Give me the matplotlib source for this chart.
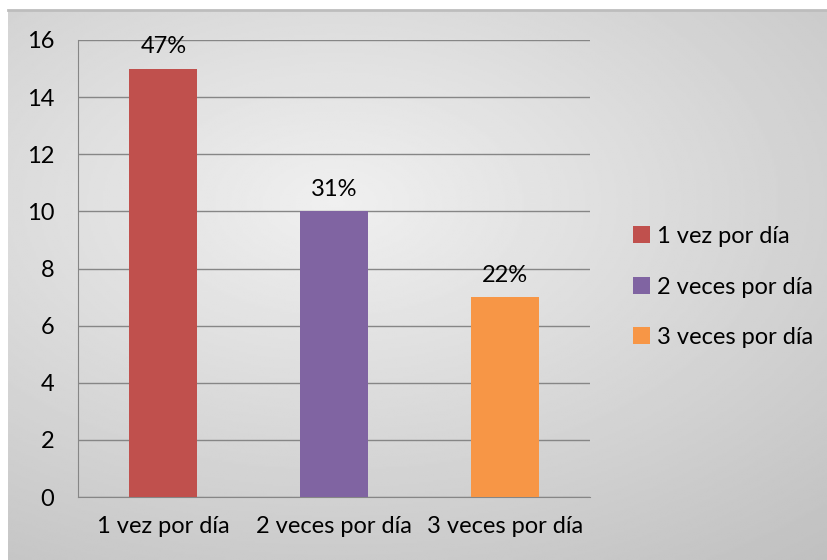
import matplotlib.pyplot as plt
import numpy as np

categorias = ["1 vez por día", "2 veces por día", "3 veces por día"]
valores = [15, 10, 7]
porcentajes = ["47%", "31%", "22%"]
colores = ["#C0504D", "#8064A2", "#F79646"]

plt.rcParams["font.family"] = ["Lato", "DejaVu Sans"]

fig = plt.figure(figsize=(8.28, 5.6), dpi=100)
fig.patch.set_facecolor("white")

# fondo degradado
fondo = fig.add_axes([8 / 828, 0, 820 / 828, 550 / 560])
yy, xx = np.mgrid[0:1:300j, 0:1:400j]
d = np.sqrt(((xx - 0.4) / 1.0) ** 2 + ((yy - 0.35) / 0.9) ** 2)
img = 0.94 - 0.2 * np.clip(d, 0, 1)
fondo.imshow(img, cmap="gray", vmin=0, vmax=1, aspect="auto", extent=[0, 1, 1, 0])
fondo.set_axis_off()
fig.add_artist(plt.Line2D([8 / 828, 1], [550 / 560, 550 / 560], color="#bdbdbd", lw=2))

ax = fig.add_axes([78 / 828, 63 / 560, 512 / 828, 457 / 560])
ax.set_facecolor("none")
x = np.arange(len(categorias))
barras = ax.bar(x, valores, width=0.4, color=colores, label=categorias, zorder=3)
for b, p in zip(barras, porcentajes):
    ax.annotate(p, (b.get_x() + b.get_width() / 2, b.get_height()),
                xytext=(0, 8), textcoords="offset points",
                ha="center", va="bottom", fontsize=17)

ax.set_xlim(-0.5, 2.5)
ax.set_ylim(0, 16)
ax.set_yticks(range(0, 17, 2))
ax.set_xticks(x)
ax.set_xticklabels(categorias, fontsize=17)
ax.tick_params(axis="y", labelsize=17, length=0, pad=17)
ax.tick_params(axis="x", length=0, pad=14)
ax.grid(axis="y", color="#868686", lw=1, zorder=0)
for s in ["top", "right"]:
    ax.spines[s].set_visible(False)
ax.spines["left"].set_color("#868686")
ax.spines["bottom"].set_color("#868686")

fig.legend(handles=barras, labels=categorias, loc="center left",
           bbox_to_anchor=(624 / 828, 1 - 287 / 560), frameon=False,
           fontsize=17, handlelength=0.7, handleheight=0.7,
           handletextpad=0.3, labelspacing=1.25, borderaxespad=0)

fig.savefig("out.png", dpi=100)
